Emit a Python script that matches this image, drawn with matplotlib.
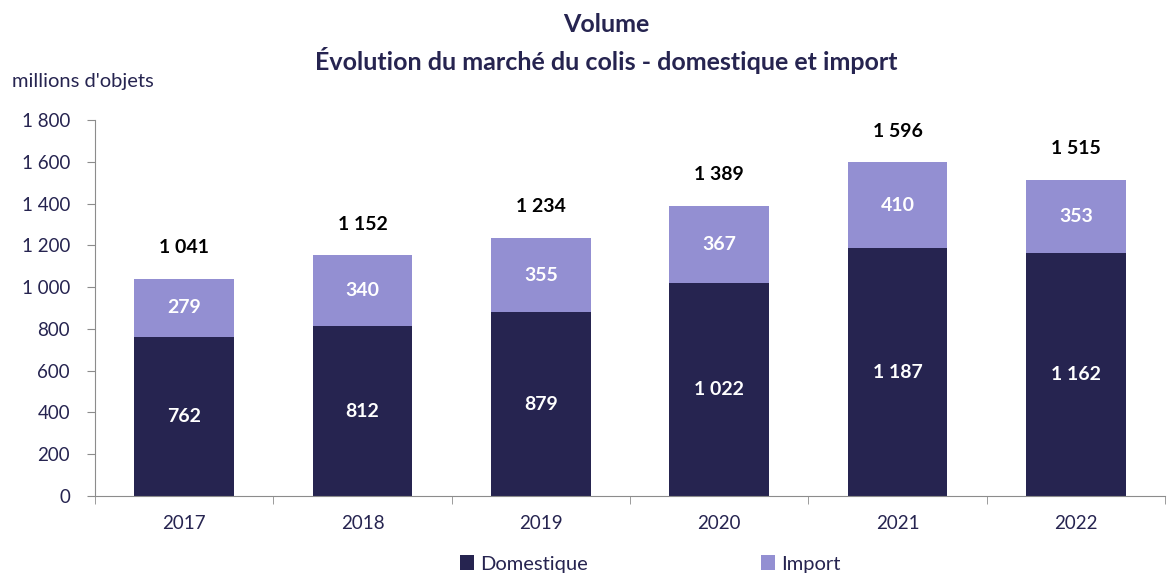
import matplotlib
matplotlib.use("Agg")
import matplotlib.pyplot as plt
import numpy as np

years = ["2017", "2018", "2019", "2020", "2021", "2022"]
domestique = [762, 812, 879, 1022, 1187, 1162]
imports = [279, 340, 355, 367, 410, 353]
totals = [1041, 1152, 1234, 1389, 1596, 1515]

NAVY = "#262450"
LILAC = "#938fd2"
TEXT = "#262450"


def fr(v):
    return f"{v:,}".replace(",", " ")


plt.rcParams["font.family"] = ["Lato", "DejaVu Sans"]

fig = plt.figure(figsize=(11.7, 5.74), dpi=100)
ax = fig.add_axes([0.0812, 0.1359, 0.9145, 0.655])

x = np.arange(len(years))
w = 0.56
ax.bar(x, domestique, w, color=NAVY, label="Domestique")
ax.bar(x, imports, w, bottom=domestique, color=LILAC, label="Import")

for i in range(len(years)):
    ax.text(x[i], domestique[i] / 2, fr(domestique[i]), ha="center", va="center",
            color="white", fontsize=14, fontweight="bold")
    ax.text(x[i], domestique[i] + imports[i] / 2, fr(imports[i]), ha="center", va="center",
            color="white", fontsize=14, fontweight="bold")
    ax.text(x[i], totals[i] + 150, fr(totals[i]), ha="center", va="center",
            color="black", fontsize=14, fontweight="bold")

ax.set_xlim(-0.5, len(years) - 0.5)
ax.set_ylim(0, 1800)
ax.set_yticks(range(0, 1801, 200))
ax.set_yticklabels([fr(v) for v in range(0, 1801, 200)])
ax.set_xticks(x)
ax.set_xticklabels(years)
ax.set_xticks(np.arange(-0.5, len(years)), minor=True)
ax.tick_params(axis="x", which="major", length=0, pad=14, labelsize=13.5, colors=TEXT)
ax.tick_params(axis="x", which="minor", length=6, color="#8c8c8c", direction="out")
ax.tick_params(axis="y", length=6, color="#8c8c8c", labelsize=13.5, labelcolor=TEXT, pad=12)

for s in ["top", "right"]:
    ax.spines[s].set_visible(False)
ax.spines["left"].set_color("#8c8c8c")
ax.spines["bottom"].set_color("#8c8c8c")

fig.text(606 / 1170, 1 - 25 / 574, "Volume", ha="center", va="center",
         fontsize=18, fontweight="bold", color=TEXT)
fig.text(606 / 1170, 1 - 60 / 574, "Évolution du marché du colis - domestique et import",
         ha="center", va="center", fontsize=18, fontweight="bold", color=TEXT)
fig.text(12 / 1170, 1 - 82 / 574, "millions d'objets", ha="left", va="center",
         fontsize=14.5, color=TEXT)

leg = fig.legend(loc="center", bbox_to_anchor=(650 / 1170, 1 - 564 / 574), ncol=2,
                 frameon=False, fontsize=14.5, handlelength=0.7, handleheight=0.7,
                 handletextpad=0.3, columnspacing=8.6)
for t in leg.get_texts():
    t.set_color(TEXT)

fig.savefig("out.png", dpi=100)
